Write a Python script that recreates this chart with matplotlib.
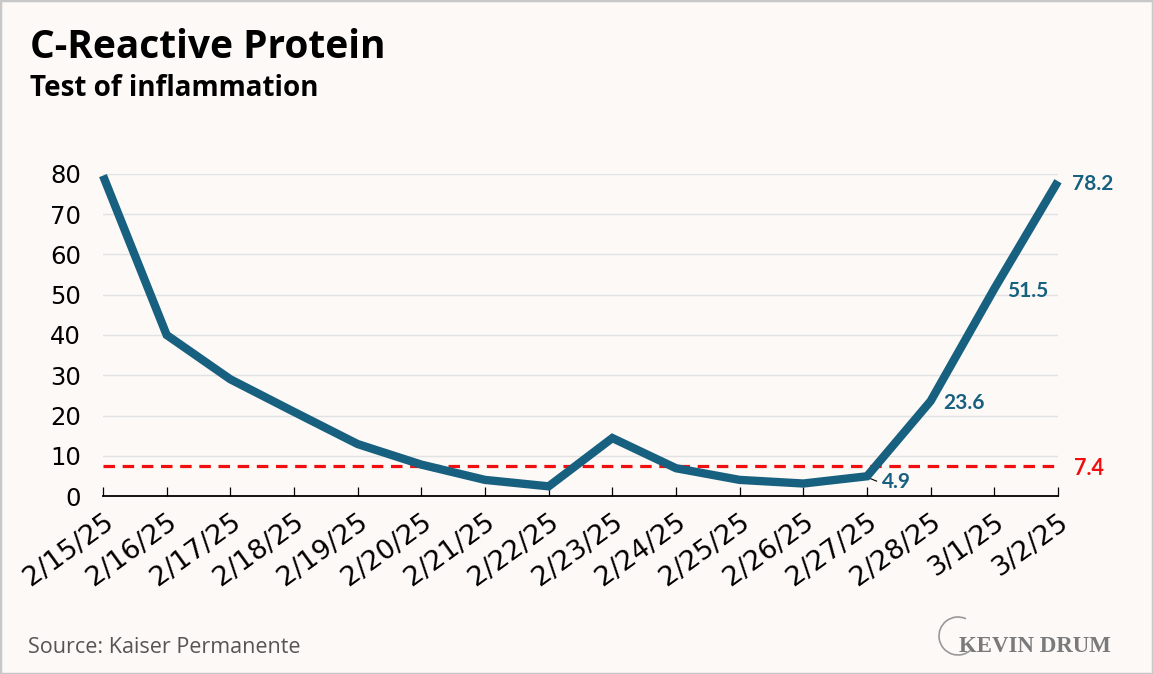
import matplotlib
matplotlib.use('Agg')
import matplotlib.pyplot as plt
from matplotlib.patches import Arc, Rectangle

DATES = ['2/15/25', '2/16/25', '2/17/25', '2/18/25', '2/19/25', '2/20/25',
         '2/21/25', '2/22/25', '2/23/25', '2/24/25', '2/25/25', '2/26/25',
         '2/27/25', '2/28/25', '3/1/25', '3/2/25']
CRP = [79.6, 40.0, 29.0, 20.9, 12.9, 7.8, 4.0, 2.4, 14.4, 6.9, 4.0, 3.1,
       4.9, 23.6, 51.5, 78.2]
THRESHOLD = 7.4
Y_TICKS = [0, 10, 20, 30, 40, 50, 60, 70, 80]
# (index into CRP, x offset px, y offset px)
LABELED = [(12, 15, -4), (13, 13, 0), (14, 13, 0), (15, 14, -1)]

W, H = 1153, 674
BG = '#fcf9f7'
LINE_COLOR = '#17607f'
RED = '#f00f0f'
TICK_FONT = 'DejaVu Sans'

fig = plt.figure(figsize=(W / 100, H / 100), dpi=100, facecolor=BG)
ax = fig.add_axes([103 / W, (H - 496) / H, (1058 - 103) / W, (496 - 174) / H])
ax.set_facecolor(BG)

x = list(range(len(DATES)))
ax.set_xlim(0, len(DATES) - 1)
ax.set_ylim(0, 80)

for yv in Y_TICKS[1:]:
    ax.axhline(yv, color='#e2e2e2', lw=1.0, zorder=1)

ax.axhline(THRESHOLD, color=RED, lw=2.3, dashes=(3.6, 2.4), zorder=2)
ax.plot(x, CRP, color=LINE_COLOR, lw=6.0, solid_joinstyle='miter',
        solid_capstyle='butt', clip_on=False, zorder=3)

for i, dx, dy in LABELED:
    ax.annotate(f'{CRP[i]:.1f}', (x[i], CRP[i]), xytext=(dx, dy),
                textcoords='offset pixels', ha='left', va='center_baseline',
                fontsize=15, fontweight='bold', family='Lato',
                color=LINE_COLOR, zorder=4)
ax.plot([x[12] + 0.01, x[12] + 0.15], [CRP[12] - 0.3, CRP[12] - 1.2],
        color='black', lw=0.8, zorder=2)
ax.annotate(f'{THRESHOLD:.1f}', (x[-1], THRESHOLD), xytext=(16, 0),
            textcoords='offset pixels', ha='left', va='center_baseline',
            fontsize=15.5, fontweight='bold', family='Lato', color=RED)

for side in ('top', 'right', 'left'):
    ax.spines[side].set_visible(False)
ax.spines['bottom'].set_color('black')
ax.spines['bottom'].set_linewidth(1.3)

ax.set_yticks(Y_TICKS)
ax.set_yticklabels([str(v) for v in Y_TICKS], family=TICK_FONT)
ax.tick_params(axis='y', length=0, pad=16, labelsize=17.5, labelcolor='black')
ax.set_xticks(x)
ax.set_xticklabels(DATES, rotation=36, ha='right', va='top',
                   rotation_mode='anchor', family=TICK_FONT)
ax.tick_params(axis='x', direction='in', length=6.5, width=0.9,
               pad=9, labelsize=19.5, color='black')

fig.text(30 / W, 1 - 58 / H, 'C-Reactive Protein', fontsize=28,
         fontweight='bold', family='Open Sans', va='baseline', color='black')
fig.text(30 / W, 1 - 96 / H, 'Test of inflammation', fontsize=20,
         fontweight='bold', family='Open Sans', va='baseline', color='black')
fig.text(28 / W, 1 - 653 / H, 'Source: Kaiser Permanente', fontsize=15.5,
         family='Open Sans', va='baseline', color='#555555')

# logo
fig.text(959 / W, 1 - 652 / H, 'KEVIN DRUM', fontsize=16.5,
         family='Liberation Serif', fontweight='bold', va='baseline',
         color='#7a7a7a')
fig.patches.append(Arc((958 / W, 1 - 636 / H), 38 / W, 38 / H,
                       theta1=75, theta2=300, color='#999999', lw=1.2,
                       transform=fig.transFigure, figure=fig))
fig.patches.append(Rectangle((0, 0), 1, 1, transform=fig.transFigure,
                             fill=False, edgecolor='#c8c8c8', lw=2.5,
                             figure=fig))

fig.savefig('out.png', dpi=100, facecolor=BG)
